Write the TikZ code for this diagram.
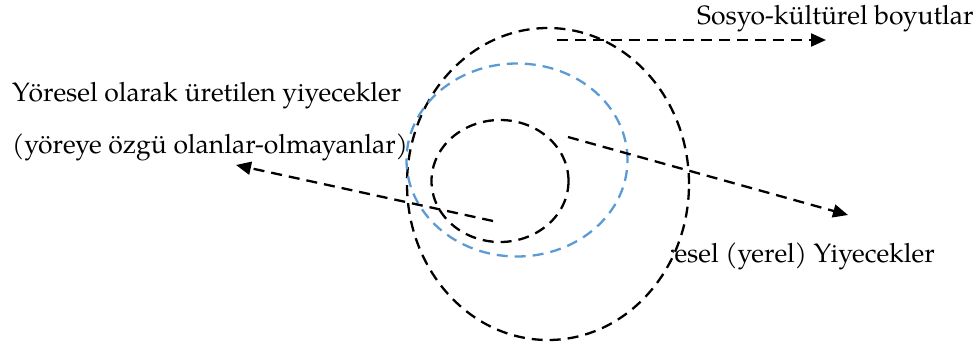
\documentclass[tikz,border=0pt]{standalone}
\usepackage{fontspec}
\setmainfont{TeX Gyre Pagella}
\usetikzlibrary{shapes.geometric,arrows.meta}
\definecolor{ringblue}{RGB}{91,155,213}
\tikzset{
  ring/.style={ellipse,draw=black,line width=2.3pt,dash pattern=on 11pt off 7pt,inner sep=0pt},
  bluering/.style={ring,draw=ringblue},
  arr/.style={line width=2.3pt,dash pattern=on 11pt off 7pt,-{Triangle[length=15pt,width=13pt]}},
  lbl/.style={inner sep=0pt,font=\fontsize{26.5}{30}\selectfont}
}
\begin{document}
\begin{tikzpicture}[x=1pt,y=-1pt]
\useasboundingbox (0,0) rectangle (977,345);
\node[ring,minimum width=282pt,minimum height=312pt] (outer) at (548,184) {};
\node[bluering,minimum width=221pt,minimum height=193pt] (blue) at (517,160) {};
\node[ring,minimum width=137pt,minimum height=122pt] (inner) at (500,181) {};
\node[lbl,anchor=base west] (sosyo) at (697,25) {Sosyo-kültürel boyutlar};
\node[lbl,anchor=base west] (yl1) at (12,101) {Yöresel olarak üretilen yiyecekler};
\node[lbl,anchor=base west] (yl2) at (12,153) {(yöreye özgü olanlar-olmayanlar)};
\begin{scope}
\clip (671,225) rectangle (977,280);
\node[lbl,anchor=base east] (yerel) at (935,262) {Yöresel (yerel) Yiyecekler};
\end{scope}
\coordinate (s1) at (557,40);
\coordinate (e1) at (826,40);
\coordinate (s2) at (568,137);
\coordinate (e2) at (848,215);
\coordinate (s3) at (493,221);
\coordinate (e3) at (236,165);
\draw[arr] (s1) -- (e1);
\draw[arr] (s2) -- (e2);
\draw[arr] (s3) -- (e3);
\end{tikzpicture}
\end{document}
